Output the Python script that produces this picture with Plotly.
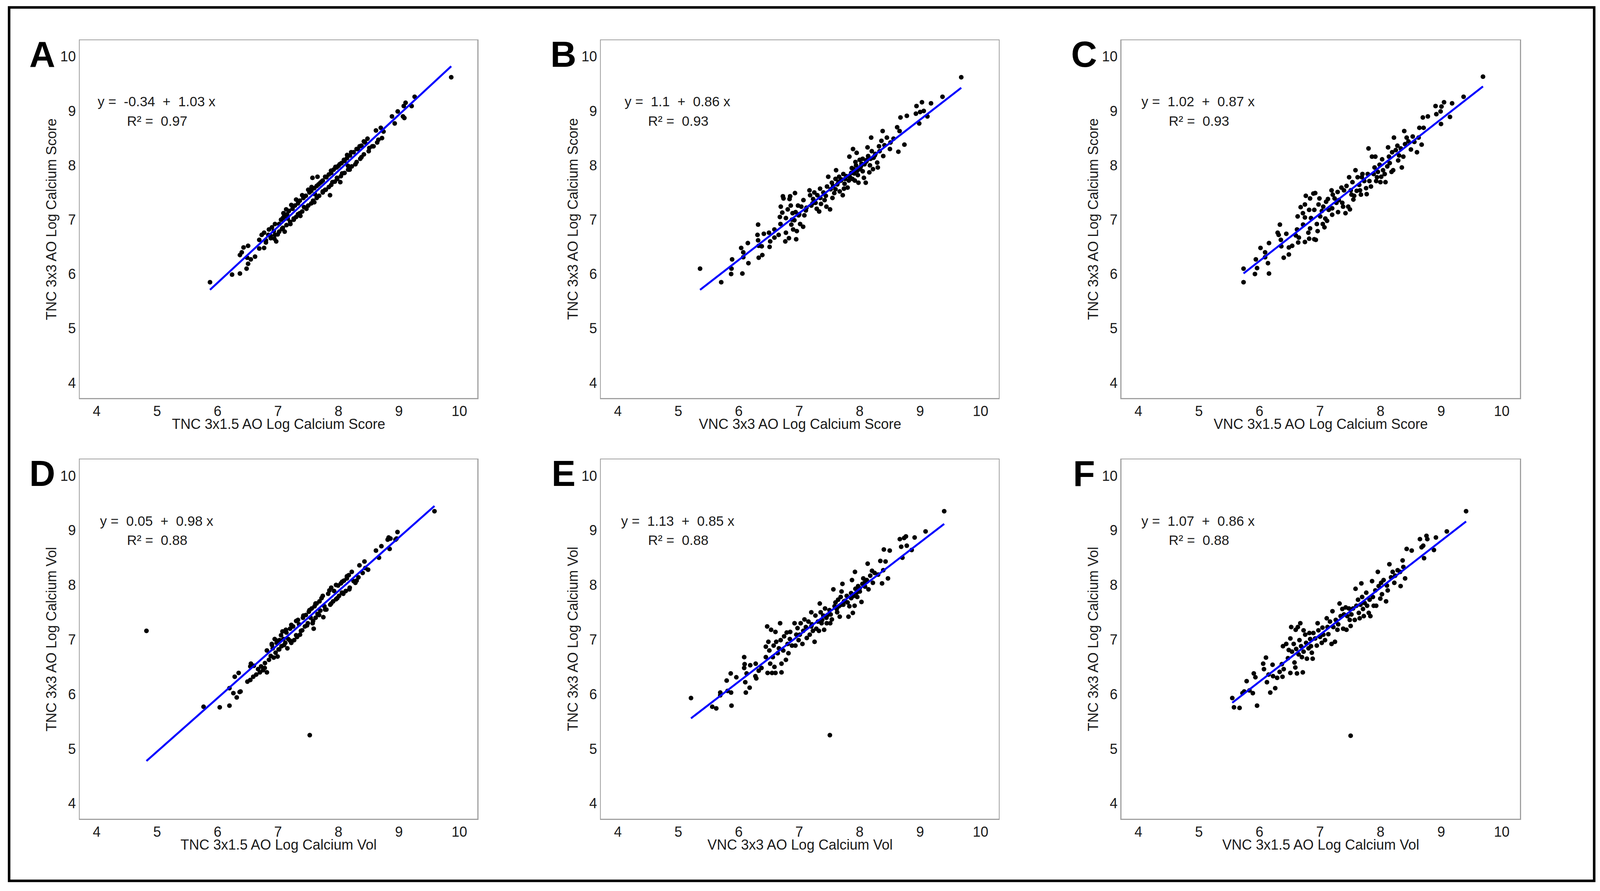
import plotly.graph_objects as go

# ---------------- data ----------------
A_pts = [(5.875,5.85),(6.24,5.99),(6.37,6.01),(6.48,6.10),(6.505,6.19),(6.55,6.27),(6.62,6.32),(6.37,6.35),
 (6.40,6.40),(6.43,6.49),(6.505,6.52),(6.49,6.30),(6.69,6.47),(6.69,6.63),(6.73,6.72),(6.77,6.76),(6.77,6.48),
 (6.80,6.58),(6.84,6.72),(6.88,6.66),(6.93,6.79),(6.97,6.60),(6.94,6.65),(6.995,6.73),(7.02,6.92),(7.065,6.83),
 (7.08,7.03),(7.09,7.12),(7.135,7.19),(7.11,6.78),(7.16,7.02),(7.205,6.92),(7.22,7.27),(7.26,7.00),(7.30,7.37),
 (7.33,7.10),(7.37,7.07),(7.40,7.45),(7.43,7.23),(7.47,7.20),(7.50,7.55),(7.555,7.60),(7.57,7.77),(7.60,7.32),
 (7.61,7.47),(7.653,7.79),(7.67,7.65),(7.72,7.70),(7.74,7.52),(7.78,7.79),(7.79,7.55),(7.86,7.45),(7.877,7.90),
 (7.90,7.69),(7.95,7.97),(7.975,7.77),(8.02,8.02),(8.03,7.69),(8.06,7.85),(8.09,8.10),(8.143,8.19),(8.157,7.99),
 (8.185,7.92),(8.21,8.24),(8.28,8.02),(8.30,8.30),(8.35,8.35),(8.38,8.15),(8.42,8.44),(8.48,8.49),(8.51,8.32),
 (8.56,8.35),(8.62,8.64),(8.66,8.47),(8.70,8.69),(8.72,8.50),(8.745,8.62),(8.885,8.90),(8.93,8.77),(8.98,8.99),
 (9.067,8.90),(9.09,8.87),(9.08,9.09),(9.11,9.15),(9.21,9.09),(9.26,9.26),(9.865,9.62),
 (7.05,7.00),(7.10,7.06),(7.15,7.10),(7.18,7.16),(7.24,7.20),(7.28,7.26),(7.33,7.30),(7.36,7.35),(7.42,7.40),
 (7.46,7.44),(7.52,7.50),(7.55,7.53),(7.60,7.58),(7.64,7.62),(7.70,7.68),(7.74,7.72),(7.80,7.78),(7.84,7.83),
 (7.88,7.86),(7.92,7.92),(7.97,7.96),(8.00,7.99),(8.05,8.04),(8.10,8.08),(8.14,8.13),(8.19,8.18),(8.25,8.24),
 (8.32,8.30),(8.38,8.36),(8.44,8.42),(6.85,6.82),(6.90,6.86),(6.95,6.92),
 (7.02,6.78),(7.08,6.85),(7.14,6.90),(7.20,6.96),(7.26,7.02),(7.30,7.05),(7.36,7.12),(7.40,7.15),(7.46,7.22),
 (7.50,7.26),(7.55,7.30),(7.58,7.35),(7.64,7.40),(7.68,7.44),(7.74,7.50),(7.78,7.55),(7.84,7.60),(7.88,7.64),
 (7.94,7.70),(7.98,7.75),(8.04,7.80),(8.10,7.86),(8.16,7.92),(8.22,7.98),(8.30,8.06),(8.36,8.12),(8.42,8.20),
 (8.50,8.26),(8.58,8.35),(8.64,8.42),(6.80,6.62),(6.88,6.70),(6.95,6.72)]

B_pts = [(5.36,6.10),(5.71,5.85),(5.874,6.00),(5.88,6.10),(5.89,6.27),(6.06,6.01),(6.075,6.31),(6.075,6.40),
 (6.04,6.48),(6.16,6.20),(6.15,6.57),(6.32,6.91),(6.31,6.72),(6.32,6.62),(6.33,6.52),(6.33,6.30),(6.38,6.51),
 (6.39,6.35),(6.415,6.74),(6.50,6.76),(6.52,6.60),(6.51,6.50),(6.59,6.82),(6.59,6.67),(6.66,6.72),(6.69,6.92),
 (6.68,7.05),(6.695,7.24),(6.73,7.43),(6.74,7.39),(6.72,7.13),(6.77,6.60),(6.78,6.76),(6.78,7.03),(6.81,7.19),
 (6.83,6.66),(6.84,7.38),(6.85,7.43),(6.86,7.26),(6.87,6.91),(6.89,7.12),(6.90,6.82),(6.92,6.99),(6.93,7.49),
 (6.95,6.64),(6.96,6.79),(6.98,7.26),(6.99,7.08),(7.015,6.92),(7.035,7.24),(7.065,6.87),(7.07,7.36),(7.085,7.08),
 (7.11,7.17),(7.17,7.54),(7.18,7.45),(7.20,7.26),(7.23,7.38),(7.25,7.50),(7.27,7.31),(7.29,7.20),(7.30,7.45),
 (7.33,7.15),(7.345,7.57),(7.36,7.29),(7.40,7.50),(7.42,7.36),(7.45,7.24),(7.46,7.61),(7.48,7.79),(7.51,7.19),
 (7.52,7.56),(7.54,7.68),(7.55,7.40),(7.58,7.49),(7.60,7.75),(7.61,7.91),(7.63,7.65),(7.66,7.79),(7.67,7.52),
 (7.69,7.72),(7.72,7.45),(7.73,7.84),(7.74,7.57),(7.76,7.75),(7.80,7.59),(7.82,7.72),(7.83,8.16),(7.86,7.86),
 (7.88,7.75),(7.89,8.30),(7.90,7.93),(7.92,7.72),(7.94,8.00),(7.95,8.23),(7.97,7.82),(7.98,7.68),(8.00,8.10),
 (8.01,7.93),(8.03,8.03),(8.05,7.89),(8.07,7.77),(8.10,7.68),(8.11,8.07),(8.13,8.33),(8.14,8.17),(8.16,7.87),
 (8.17,8.00),(8.19,8.51),(8.20,8.26),(8.22,7.93),(8.23,8.14),(8.26,8.21),(8.29,8.05),(8.30,7.96),(8.32,8.35),
 (8.33,8.26),(8.36,8.45),(8.38,8.63),(8.39,8.17),(8.41,8.37),(8.45,8.51),(8.50,8.30),(8.51,8.42),(8.56,8.49),
 (8.62,8.70),(8.64,8.25),(8.66,8.63),(8.675,8.88),(8.74,8.38),(8.78,8.91),(8.93,8.95),(8.94,9.09),(8.985,8.77),
 (9.00,8.98),(9.03,9.16),(9.06,9.00),(9.12,8.90),(9.18,9.14),(9.37,9.26),(9.68,9.62),
 (7.56,7.62),(7.65,7.70),(7.70,7.74),(7.78,7.80),(7.84,7.78),(7.87,7.95),(7.91,7.85),(7.96,7.90),(8.02,7.98),
 (8.08,8.02),(8.12,8.10),(8.18,8.12),(8.25,8.18),(7.35,7.40),(7.44,7.44),(7.22,7.30),(7.12,7.22),(7.00,7.10),
 (6.88,7.00),(6.94,7.14),(7.60,7.56),(7.75,7.66),(7.93,8.06),(8.05,8.12)]

C_pts = [(5.737,5.85),(5.737,6.10),(5.925,6.00),(5.94,6.27),(5.96,6.11),(6.017,6.48),(6.093,6.40),(6.093,6.31),
 (6.14,6.20),(6.157,6.01),(6.157,6.57),(6.30,6.76),(6.317,6.72),(6.337,6.91),(6.353,6.63),(6.36,6.51),(6.40,6.30),
 (6.443,6.74),(6.485,6.49),(6.485,6.36),(6.54,6.52),(6.60,6.71),(6.62,6.82),(6.63,7.06),(6.639,6.58),(6.65,6.67),
 (6.68,7.23),(6.717,7.12),(6.72,6.91),(6.75,7.28),(6.75,6.59),(6.765,7.44),(6.75,7.04),(6.807,6.76),(6.82,7.18),
 (6.82,6.65),(6.835,6.84),(6.835,7.39),(6.85,7.03),(6.89,7.48),(6.905,6.64),(6.905,7.18),(6.92,7.49),(6.93,6.63),
 (6.947,6.92),(6.96,6.79),(6.975,7.28),(6.99,7.39),(7.003,7.06),(7.03,7.16),(7.045,6.92),(7.053,7.24),(7.073,6.86),
 (7.087,7.02),(7.10,7.33),(7.115,6.98),(7.13,7.38),(7.143,7.18),(7.19,7.54),(7.20,7.21),(7.20,7.09),(7.21,7.46),
 (7.24,7.39),(7.27,7.31),(7.29,7.51),(7.297,7.14),(7.31,7.36),(7.353,7.59),(7.367,7.31),(7.38,7.24),(7.395,7.54),
 (7.42,7.12),(7.437,7.62),(7.465,7.24),(7.48,7.78),(7.493,7.19),(7.507,7.54),(7.52,7.46),(7.535,7.69),(7.55,7.37),
 (7.563,7.44),(7.585,7.91),(7.605,7.53),(7.62,7.78),(7.647,7.64),(7.66,7.54),(7.675,7.46),(7.69,7.78),(7.70,7.84),
 (7.73,7.71),(7.76,7.58),(7.77,7.47),(7.787,7.84),(7.80,8.31),(7.815,7.71),(7.84,7.61),(7.857,8.16),(7.885,7.84),
 (7.90,7.96),(7.913,8.16),(7.927,7.71),(7.94,7.78),(7.955,7.88),(7.983,8.01),(7.997,7.69),(8.01,7.79),(8.025,8.11),
 (8.04,7.91),(8.067,7.84),(8.08,7.69),(8.11,7.98),(8.123,8.33),(8.137,8.16),(8.15,8.04),(8.18,7.88),(8.19,8.24),
 (8.207,7.91),(8.22,8.51),(8.25,8.28),(8.277,8.36),(8.29,8.09),(8.305,8.18),(8.333,8.31),(8.35,7.96),(8.375,8.16),
 (8.39,8.63),(8.403,8.39),(8.43,8.51),(8.459,8.44),(8.50,8.29),(8.53,8.53),(8.557,8.43),(8.60,8.24),(8.627,8.51),
 (8.64,8.69),(8.677,8.38),(8.697,8.88),(8.71,8.69),(8.78,8.90),(8.907,9.09),(8.92,8.94),(8.99,8.99),(8.997,8.76),
 (9.005,9.08),(9.047,9.16),(9.145,8.89),(9.18,9.14),(9.37,9.26),(9.69,9.63)]

D_pts = [(4.824,7.16),(7.525,5.25),(9.588,9.35),(5.769,5.77),(6.036,5.76),(6.197,5.79),(6.197,6.11),(6.284,6.32),
 (6.349,6.39),(6.262,6.02),(6.317,5.94),(6.365,6.04),(6.38,6.05),(6.494,6.23),(6.542,6.26),(6.552,6.56),(6.542,6.51),
 (6.59,6.32),(6.64,6.36),(6.67,6.46),(6.72,6.51),(6.752,6.44),(6.784,6.57),(6.816,6.40),(6.816,6.80),(6.85,6.63),
 (6.88,6.70),(6.897,6.92),(6.913,6.84),(6.929,6.67),(6.945,7.01),(6.96,6.76),(6.977,6.94),(6.993,6.69),(7.01,6.82),
 (7.026,6.99),(7.058,6.88),(7.074,7.15),(7.09,7.01),(7.12,6.94),(7.138,7.13),(7.155,6.84),(7.17,7.01),(7.20,7.20),
 (7.22,6.94),(7.25,7.24),(7.267,6.99),(7.30,7.34),(7.316,7.05),(7.348,7.28),(7.364,7.09),(7.40,7.17),(7.412,7.40),
 (7.445,7.24),(7.46,7.45),(7.493,7.30),(7.51,7.51),(7.54,7.40),(7.557,7.57),(7.573,7.30),(7.59,7.20),(7.605,7.61),
 (7.622,7.40),(7.638,7.66),(7.654,7.47),(7.686,7.70),(7.70,7.53),(7.72,7.76),(7.75,7.41),(7.767,7.61),(7.80,7.55),
 (7.83,7.84),(7.864,7.64),(7.88,7.95),(7.912,7.70),(7.928,7.89),(7.96,7.74),(7.993,7.99),(8.009,7.80),(8.04,8.03),
 (8.057,7.86),(8.09,8.08),(8.12,7.89),(8.138,8.12),(8.17,8.18),(8.186,7.95),(8.22,8.24),(8.25,8.07),(8.30,8.08),
 (8.33,8.14),(8.347,8.36),(8.40,8.22),(8.43,8.43),(8.444,8.31),(8.49,8.28),(8.62,8.63),(8.67,8.50),(8.71,8.71),
 (8.814,8.83),(8.83,8.87),(8.846,8.66),(8.86,8.85),(8.943,8.83),(8.976,8.97),(8.96,8.85),
 (6.90,6.90),(6.98,6.98),(7.05,7.08),(7.13,7.18),(7.22,7.27),(7.33,7.36),(7.42,7.44),(7.52,7.54),(7.62,7.66),
 (7.74,7.80),(7.85,7.90),(7.96,8.00),(8.06,8.06),(8.14,8.16),(7.02,6.82),(7.10,6.90),(7.20,6.98),(7.30,7.08),
 (7.38,7.16),(7.48,7.26),(7.58,7.34),(7.68,7.45),(7.78,7.55),(7.88,7.66),(7.98,7.76),(8.08,7.84),(8.18,7.92),
 (8.28,8.04),(6.60,6.52),(6.70,6.40),(6.78,6.48)]

E_pts = [(5.21,5.93),(7.507,5.25),(9.398,9.35),(5.562,5.77),(5.628,5.74),(5.694,6.03),(5.694,5.98),(5.80,6.25),
 (5.815,6.06),(5.867,6.38),(5.873,6.03),(5.88,5.79),(5.96,6.31),(6.09,6.68),(6.097,6.55),(6.09,6.48),(6.108,6.22),
 (6.117,6.03),(6.13,6.38),(6.18,6.12),(6.19,6.53),(6.275,6.33),(6.28,6.56),(6.29,6.29),(6.33,6.43),(6.376,6.48),
 (6.448,6.68),(6.47,7.24),(6.477,6.39),(6.448,6.87),(6.49,6.96),(6.506,6.80),(6.52,6.56),(6.535,7.18),(6.55,6.39),
 (6.563,6.68),(6.577,6.89),(6.59,6.50),(6.607,6.39),(6.607,7.14),(6.62,6.96),(6.644,6.75),(6.664,6.84),(6.684,7.30),
 (6.693,6.99),(6.707,6.56),(6.707,6.40),(6.736,6.80),(6.75,7.06),(6.78,6.63),(6.793,7.13),(6.808,6.92),(6.822,6.75),
 (6.845,7.01),(6.851,7.14),(6.88,6.89),(6.923,7.30),(6.937,6.89),(6.952,7.09),(6.972,7.21),(6.99,6.99),(7.01,7.09),
 (7.024,7.30),(7.053,6.92),(7.067,7.16),(7.087,7.37),(7.11,7.23),(7.125,7.03),(7.153,7.33),(7.174,7.09),(7.20,7.50),
 (7.21,7.28),(7.226,7.16),(7.254,6.96),(7.268,7.44),(7.283,7.20),(7.31,7.33),(7.326,7.16),(7.34,7.66),(7.355,7.50),
 (7.37,7.30),(7.398,7.44),(7.412,7.18),(7.427,7.57),(7.455,7.30),(7.47,7.45),(7.50,7.54),(7.513,7.30),(7.54,7.37),
 (7.565,7.92),(7.585,7.61),(7.60,7.68),(7.628,7.50),(7.643,7.73),(7.657,7.61),(7.67,7.42),(7.686,7.78),(7.70,7.88),
 (7.715,8.02),(7.73,7.64),(7.758,7.71),(7.786,7.80),(7.815,7.42),(7.83,7.61),(7.858,7.85),(7.873,8.09),(7.887,7.49),
 (7.916,7.62),(7.922,8.24),(7.93,7.93),(7.96,7.78),(7.974,7.98),(8.002,7.88),(8.03,7.69),(8.046,8.02),(8.06,8.12),
 (8.089,7.97),(8.117,8.09),(8.132,8.39),(8.146,7.92),(8.175,8.17),(8.204,8.26),(8.218,8.04),(8.247,8.22),(8.305,8.19),
 (8.342,8.44),(8.37,8.03),(8.39,8.27),(8.428,8.43),(8.468,8.12),(8.40,8.65),(8.497,8.63),(8.664,8.84),(8.687,8.70),
 (8.707,8.50),(8.736,8.86),(8.765,8.89),(8.779,8.72),(8.86,8.64),(8.909,8.87),(9.09,8.98),
 (7.62,7.56),(7.70,7.64),(7.74,7.70),(7.80,7.68),(7.86,7.76),(7.90,7.80),(7.95,7.86),(8.00,7.94),(8.08,8.04),
 (7.45,7.40),(7.52,7.46),(7.38,7.36),(7.20,7.24)]

F_pts = [(7.505,5.24),(9.411,9.35),(5.551,5.93),(5.579,5.76),(5.671,5.75),(5.72,6.02),(5.748,6.05),(5.835,6.07),
 (5.89,6.02),(5.96,5.79),(5.788,6.24),(5.906,6.38),(5.933,6.31),(6.061,6.56),(6.074,6.46),(6.107,6.67),(6.123,6.22),
 (6.15,6.36),(6.178,6.03),(6.216,6.54),(6.224,6.33),(6.26,6.11),(6.292,6.30),(6.333,6.41),(6.369,6.55),(6.38,6.32),
 (6.388,6.88),(6.40,6.46),(6.442,6.92),(6.47,6.66),(6.483,6.81),(6.51,6.39),(6.51,7.02),(6.524,7.23),(6.537,6.78),
 (6.565,6.92),(6.578,6.58),(6.592,6.49),(6.598,7.18),(6.606,6.83),(6.619,6.38),(6.633,7.23),(6.646,6.73),(6.66,6.99),
 (6.674,7.30),(6.687,6.88),(6.701,6.68),(6.715,6.40),(6.728,7.17),(6.728,6.78),(6.755,7.09),(6.77,6.94),(6.783,6.65),
 (6.81,6.84),(6.824,7.12),(6.837,7.01),(6.85,6.88),(6.864,6.76),(6.878,6.65),(6.89,7.12),(6.919,7.02),(6.946,6.89),
 (6.96,7.30),(6.973,7.17),(7.00,7.05),(7.028,6.94),(7.04,7.22),(7.055,7.09),(7.082,6.99),(7.11,7.39),(7.123,7.23),
 (7.137,7.10),(7.164,7.33),(7.19,6.92),(7.205,7.52),(7.219,7.23),(7.246,6.96),(7.26,7.36),(7.287,7.18),(7.30,7.28),
 (7.322,7.66),(7.34,7.43),(7.368,7.56),(7.382,7.20),(7.395,7.46),(7.423,7.59),(7.436,7.18),(7.45,7.43),(7.477,7.57),
 (7.49,7.36),(7.505,7.25),(7.518,7.46),(7.545,7.57),(7.573,7.36),(7.586,7.93),(7.60,7.62),(7.627,7.73),(7.64,7.49),
 (7.654,7.39),(7.668,7.64),(7.682,8.03),(7.695,7.78),(7.709,7.56),(7.722,7.43),(7.736,7.67),(7.763,7.86),(7.777,7.62),
 (7.804,7.49),(7.818,7.73),(7.831,7.43),(7.859,8.07),(7.872,7.78),(7.886,7.62),(7.913,7.90),(7.927,7.62),(7.954,8.24),
 (7.968,7.98),(7.995,7.75),(8.008,8.04),(8.022,7.83),(8.049,8.09),(8.09,7.70),(8.104,7.99),(8.117,7.90),(8.145,8.38),
 (8.172,8.14),(8.199,8.24),(8.226,8.04),(8.24,8.17),(8.281,8.27),(8.322,8.24),(8.33,7.98),(8.363,8.45),(8.376,8.33),
 (8.404,8.12),(8.43,8.66),(8.513,8.63),(8.649,8.84),(8.676,8.69),(8.703,8.72),(8.717,8.49),(8.757,8.90),(8.771,8.84),
 (8.88,8.64),(8.913,8.87),(9.093,8.98)]

# regression coefficients and R² printed on each panel
intercepts = [-0.34, 1.1, 1.02, 0.05, 1.13, 1.07]
slopes = [1.03, 0.86, 0.87, 0.98, 0.85, 0.86]
r2_labels = ["0.97", "0.93", "0.93", "0.88", "0.88", "0.88"]
intercept_labels = ["-0.34", "1.1", "1.02", "0.05", "1.13", "1.07"]
slope_labels = ["1.03", "0.86", "0.87", "0.98", "0.85", "0.86"]
panel_letters = ["A", "B", "C", "D", "E", "F"]
x_titles = ["TNC 3x1.5 AO Log Calcium Score", "VNC 3x3 AO Log Calcium Score", "VNC 3x1.5 AO Log Calcium Score",
            "TNC 3x1.5 AO Log Calcium Vol", "VNC 3x3 AO Log Calcium Vol", "VNC 3x1.5 AO Log Calcium Vol"]
y_titles = ["TNC 3x3 AO Log Calcium Score"] * 3 + ["TNC 3x3 AO Log Calcium Vol"] * 3
tick_values = [4, 5, 6, 7, 8, 9, 10]
all_pts = [A_pts, B_pts, C_pts, D_pts, E_pts, F_pts]

# ---------------- layout (relative geometry, measured on a 4396x2281 canvas) ----------------
W, H = 4396, 2281
col_left = [219, 1651, 3081]
col_right = [1312, 2744, 4176]
row_top = [103, 1176]
row_bottom = [1019, 2096]
FONT = "Arial, Liberation Sans, Helvetica, sans-serif"
TXT = "#1a1a1a"
NB = "\u00a0"

def px(x):
    return x / W

def py(y):
    return 1 - y / H

fig = go.Figure()
annotations = []
layout_axes = {}

for i in range(6):
    r, c = divmod(i, 3)
    L, R, T, B = col_left[c], col_right[c], row_top[r], row_bottom[r]
    ax = "" if i == 0 else str(i + 1)
    xs = [p[0] for p in all_pts[i]]
    ys = [p[1] for p in all_pts[i]]
    fig.add_trace(go.Scatter(x=xs, y=ys, mode="markers", xaxis="x" + ax, yaxis="y" + ax,
                             marker=dict(color="black", size=12, line=dict(width=0)),
                             showlegend=False, hoverinfo="skip"))
    x0, x1 = min(xs), max(xs)
    fig.add_trace(go.Scatter(x=[x0, x1], y=[intercepts[i] + slopes[i] * x0, intercepts[i] + slopes[i] * x1],
                             mode="lines", xaxis="x" + ax, yaxis="y" + ax,
                             line=dict(color="#0000ff", width=5), showlegend=False, hoverinfo="skip"))
    common = dict(range=[3.72, 10.3], tickmode="array", tickvals=tick_values,
                  ticktext=[str(v) for v in tick_values], showgrid=False, zeroline=False,
                  showline=True, mirror=True, linecolor="#a0a0a0", linewidth=2.5, ticks="",
                  tickfont=dict(family=FONT, size=36, color=TXT), fixedrange=True)
    layout_axes["xaxis" + ax] = dict(common, domain=[px(L), px(R)], anchor="y" + ax)
    layout_axes["yaxis" + ax] = dict(common, domain=[py(B), py(T)], anchor="x" + ax)

    # axis titles
    annotations.append(dict(x=px((L + R) / 2), y=py(B + 66), xref="paper", yref="paper",
                            text=x_titles[i], showarrow=False, xanchor="center", yanchor="middle",
                            font=dict(family=FONT, size=36, color=TXT)))
    annotations.append(dict(x=px(L - 78), y=py((T + B) / 2), xref="paper", yref="paper",
                            text=y_titles[i], showarrow=False, textangle=-90, xanchor="center",
                            yanchor="middle", font=dict(family=FONT, size=36, color=TXT)))
    # panel letter
    annotations.append(dict(x=px(L - 103), y=py(T + 36), xref="paper", yref="paper",
                            text="<b>" + panel_letters[i] + "</b>", showarrow=False,
                            xanchor="center", yanchor="middle",
                            font=dict(family=FONT, size=92, color="black")))
    # equation
    eq = "y =" + NB * 2 + intercept_labels[i] + NB * 2 + "+" + NB * 2 + slope_labels[i] + " x"
    annotations.append(dict(x=px(L + 211), y=py(T + 157), xref="paper", yref="paper", text=eq,
                            showarrow=False, xanchor="center", yanchor="middle",
                            font=dict(family=FONT, size=35, color=TXT)))
    annotations.append(dict(x=px(L + 213), y=py(T + 206), xref="paper", yref="paper",
                            text="R²" + NB + "=" + NB * 2 + r2_labels[i], showarrow=False,
                            xanchor="center", yanchor="middle",
                            font=dict(family=FONT, size=35, color=TXT)))

fig.update_layout(
    autosize=True, margin=dict(l=0, r=0, t=0, b=0, pad=0),
    paper_bgcolor="white", plot_bgcolor="white",
    annotations=annotations,
    shapes=[dict(type="rect", xref="paper", yref="paper", x0=px(25), x1=px(4380), y0=py(2255), y1=py(19),
                 line=dict(color="black", width=6.5), fillcolor="rgba(0,0,0,0)", layer="above")],
    **layout_axes,
)

post = """
document.documentElement.style.margin = '0';
document.body.style.margin = '0';
document.documentElement.style.overflow = 'hidden';
document.body.style.overflow = 'hidden';
var gd = document.getElementById('{plot_id}');
gd.style.width = window.innerWidth + 'px';
gd.style.height = window.innerHeight + 'px';
Plotly.Plots.resize(gd);
"""

fig.write_html("out.html", default_width="100vw", default_height="100vh",
               config={"displayModeBar": False, "staticPlot": True, "responsive": True},
               post_script=post)
